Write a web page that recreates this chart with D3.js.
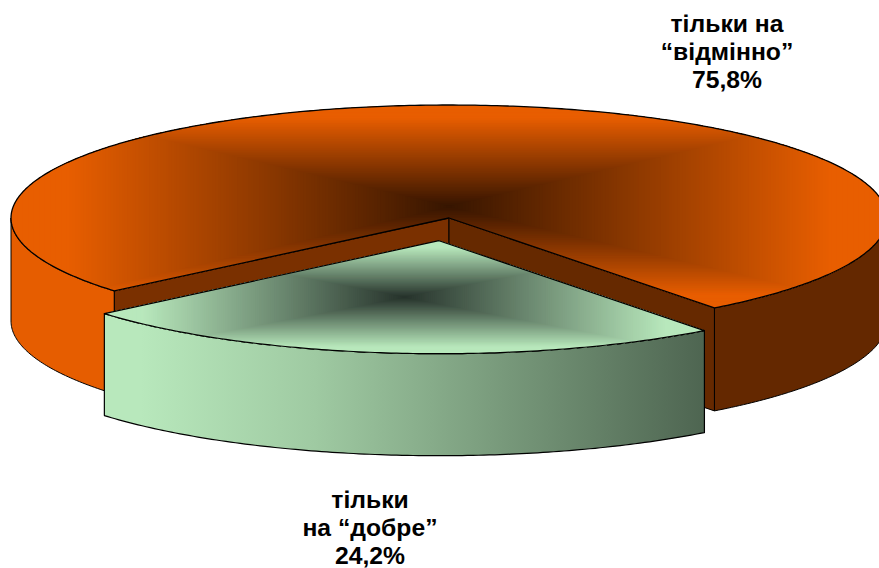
<!DOCTYPE html>
<html><head><meta charset="utf-8">
<style>html,body{margin:0;padding:0;background:#fff}svg{display:block}
text{font-family:"Liberation Sans",Arial,sans-serif;font-weight:bold;fill:#000;text-anchor:middle}</style>
<script src="https://cdnjs.cloudflare.com/ajax/libs/d3/7.8.5/d3.min.js"></script>
</head><body><svg id="c" width="879" height="568"></svg>
<script>
const categories = ["добре", "відмінно"];
const shares = [24.2, 75.8];
const labelLines = [["тільки", "на “добре”", "24,2%"], ["тільки на", "“відмінно”", "75,8%"]];
const labelAnchors = [[370, 508], [727, 32]];
const topColors = [["#26322b", "#b8e8bc"], ["#361500", "#e85e00"]];
const wallColors = { outerLeft: "#e65d00", outerRight: "#642800", innerLeft: "#7a3000", innerRight: "#662900" };

const W = 879, H = 568;
const cx = 449, cy = 218, rx = 438, ry = 113, depth = 103, greenDepth = 102;
const explode = [-10, 22.7];
const rot = 142.7 * Math.PI / 180;

const svg = d3.select("#c");
const defs = svg.append("defs");
const X = d3.scaleLinear().domain([-1, 1]).range([cx - rx, cx + rx]);
const Y = d3.scaleLinear().domain([-1, 1]).range([cy + ry, cy - ry]);
const pie = d3.pie().sort(null).startAngle(rot).endAngle(rot + 2 * Math.PI);
const arcs = pie(shares);

const pt = (a, dx = 0, dy = 0) => [X(Math.sin(a)) + dx, Y(Math.cos(a)) + dy];
const rim = (a0, a1, dx = 0, dy = 0) => {
  const n = Math.max(2, Math.ceil(Math.abs(a1 - a0) * 80));
  return d3.range(n + 1).map(i => pt(a0 + (a1 - a0) * i / n, dx, dy));
};
const line = d3.line();
const topPath = (d, dx, dy) => line([[cx + dx, cy + dy], ...rim(d.startAngle, d.endAngle, dx, dy)]) + "Z";
const wallPath = (a0, a1, dx, dy, h) => line([...rim(a0, a1, dx, dy), ...rim(a1, a0, dx, dy + h)]) + "Z";

// path gradient: nested rectangles over the slice's bounding box
function pathGradient(id, d, dx, dy, cols) {
  const pts = [[cx + dx, cy + dy], ...rim(d.startAngle, d.endAngle, dx, dy)];
  const [x0, x1] = d3.extent(pts, p => p[0]), [y0, y1] = d3.extent(pts, p => p[1]);
  const mx = (x0 + x1) / 2, my = (y0 + y1) / 2;
  defs.append("clipPath").attr("id", id).append("path").attr("d", topPath(d, dx, dy));
  const col = d3.scaleLinear().domain([0, 0.87, 1]).range([cols[0], cols[1], cols[1]]).interpolate(d3.interpolateRgb);
  const g = svg.append("g").attr("clip-path", `url(#${id})`);
  g.selectAll("rect").data(d3.range(160, 0, -1).map(i => i / 160)).join("rect")
    .attr("x", t => mx - (mx - x0 + 2) * t).attr("y", t => my - (my - y0 + 1) * t)
    .attr("width", t => 2 * (mx - x0 + 2) * t).attr("height", t => 2 * (my - y0 + 1) * t)
    .attr("fill", t => col(t));
}
const stroke = (sel, w = 1.2) => sel.attr("fill", "none").attr("stroke", "#000").attr("stroke-width", w).attr("stroke-linejoin", "round");

const [good, excellent] = arcs;

// orange slice: walls
svg.append("path").attr("d", wallPath(excellent.startAngle, 1.5 * Math.PI, 0, 0, depth)).attr("fill", wallColors.outerLeft);
svg.append("path").attr("d", wallPath(good.startAngle, Math.PI / 2, 0, 0, depth)).attr("fill", wallColors.outerRight);
stroke(svg.append("path").attr("d", wallPath(excellent.startAngle, 1.5 * Math.PI, 0, 0, depth)), 1);
stroke(svg.append("path").attr("d", wallPath(good.startAngle, Math.PI / 2, 0, 0, depth)), 1);
const innerWall = (a, fill) => {
  const p = pt(a);
  const q = [[cx, cy], p, [p[0], p[1] + depth], [cx, cy + depth]];
  svg.append("path").attr("d", line(q) + "Z").attr("fill", fill);
  stroke(svg.append("path").attr("d", line(q) + "Z"), 1);
};
innerWall(excellent.startAngle, wallColors.innerLeft);
innerWall(good.startAngle, wallColors.innerRight);

// orange top
pathGradient("t1", excellent, 0, 0, topColors[1]);
stroke(svg.append("path").attr("d", topPath(excellent, 0, 0)), 1.3);

// green slice: wall + top
const gx = explode[0], gy = explode[1];
const gp0 = pt(good.startAngle, gx, gy), gp1 = pt(good.endAngle, gx, gy);
const gg = defs.append("linearGradient").attr("id", "gw").attr("gradientUnits", "userSpaceOnUse")
  .attr("x1", gp1[0]).attr("x2", gp0[0]).attr("y1", 0).attr("y2", 0);
gg.selectAll("stop").data([[0, "#b8e8bc"], [0.06, "#b8e8bc"], [0.35, "#9fcaa2"], [1, "#4e6551"]]).join("stop")
  .attr("offset", d => d[0]).attr("stop-color", d => d[1]);
svg.append("path").attr("d", wallPath(good.startAngle, good.endAngle, gx, gy, greenDepth)).attr("fill", "url(#gw)");
stroke(svg.append("path").attr("d", wallPath(good.startAngle, good.endAngle, gx, gy, greenDepth)), 1.2);
pathGradient("t0", good, gx, gy, topColors[0]);
stroke(svg.append("path").attr("d", topPath(good, gx, gy)), 1.2);

// labels
labelLines.forEach((lines, i) => {
  const [lx, ly] = labelAnchors[i];
  const t = svg.append("text").attr("transform", `translate(${lx},${ly}) scale(1.03,1)`).attr("font-size", 24);
  t.selectAll("tspan").data(lines).join("tspan").attr("x", 0).attr("dy", (d, j) => j ? 28 : 0).text(d => d);
});
</script></body></html>
